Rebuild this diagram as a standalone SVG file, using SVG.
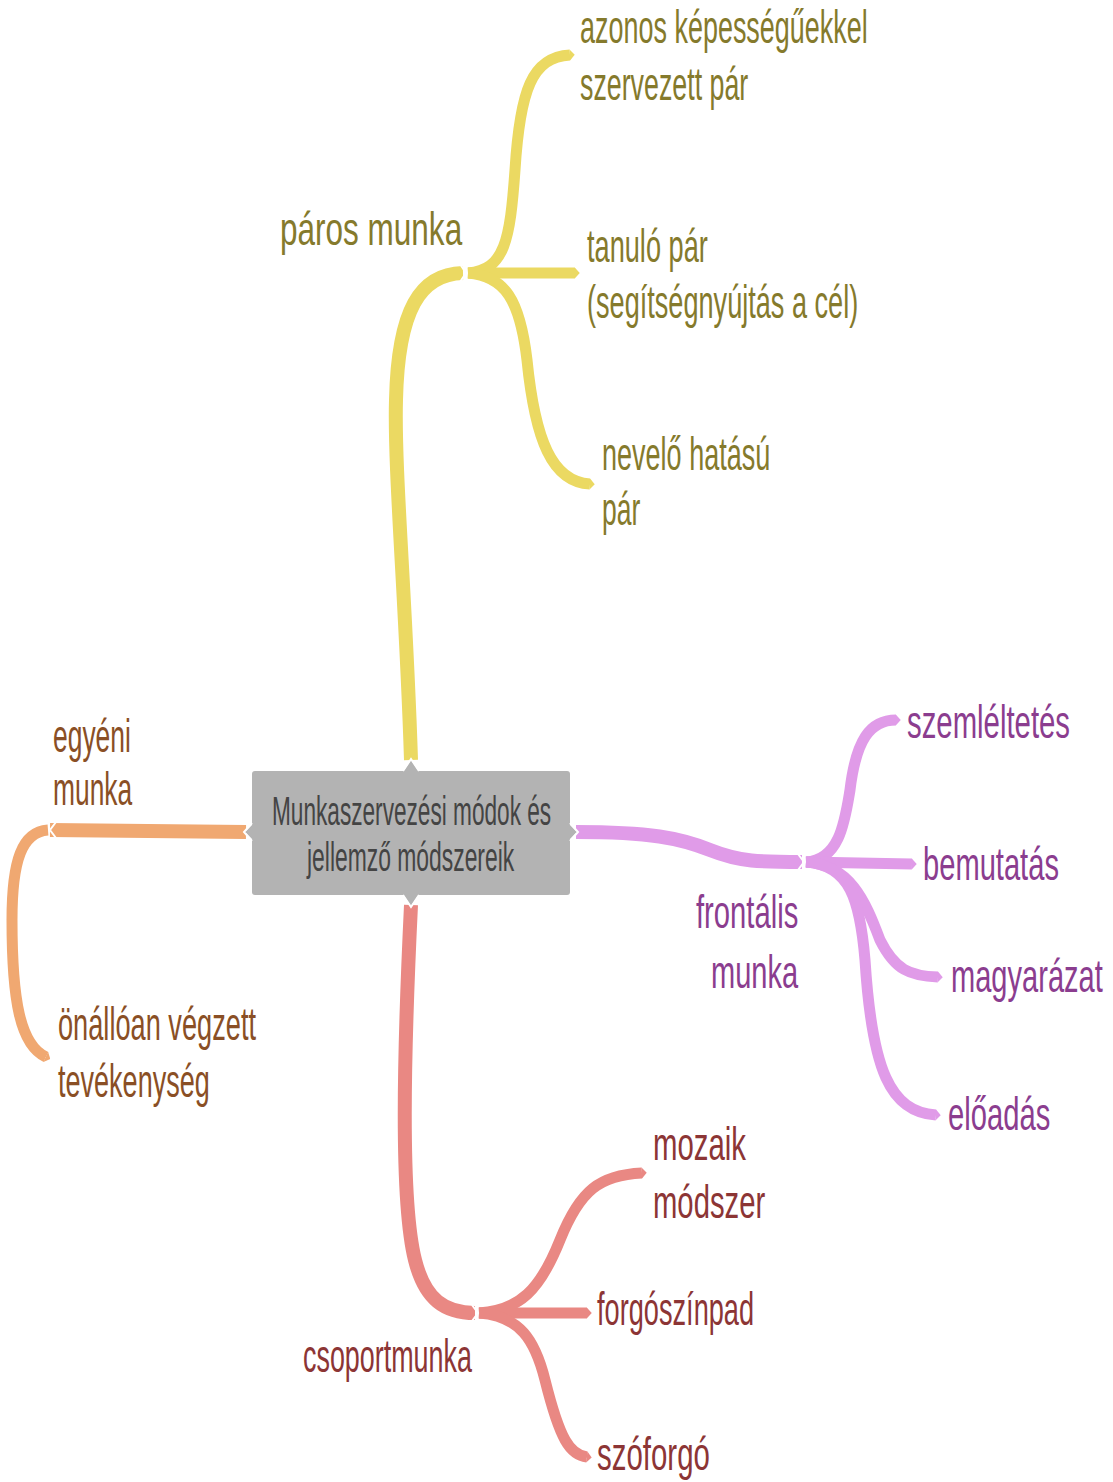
<svg xmlns="http://www.w3.org/2000/svg" width="1113" height="1482" viewBox="0 0 1113 1482">
  <style>
    .lbl { font-family: "Liberation Sans", Arial, sans-serif; font-size: 46px; }
    .root { font-family: "Liberation Sans", Arial, sans-serif; font-size: 40px; fill: #444444; }
    .y { fill: #857a2c; }
    .o { fill: #8a4f25; }
    .p { fill: #8b3d8f; }
    .r { fill: #8c3535; }
    .br { fill: none; stroke-linecap: butt; }
    .main { stroke-width: 14; }
    .leaf { stroke-width: 11; }
    .cut { fill: none; stroke: #ffffff; stroke-width: 2; stroke-linejoin: miter; }
  </style>
  <defs>
    <marker id="tipY" viewBox="0 -0.5 0.45 1" refX="0.02" refY="0" markerUnits="strokeWidth" markerWidth="0.45" markerHeight="1" orient="auto"><path d="M0,-0.5 L0.45,0 L0,0.5 Z" fill="#ebd962"/></marker>
    <marker id="tipO" viewBox="0 -0.5 0.45 1" refX="0.02" refY="0" markerUnits="strokeWidth" markerWidth="0.45" markerHeight="1" orient="auto"><path d="M0,-0.5 L0.45,0 L0,0.5 Z" fill="#f0a871"/></marker>
    <marker id="tipP" viewBox="0 -0.5 0.45 1" refX="0.02" refY="0" markerUnits="strokeWidth" markerWidth="0.45" markerHeight="1" orient="auto"><path d="M0,-0.5 L0.45,0 L0,0.5 Z" fill="#e09be8"/></marker>
    <marker id="tipR" viewBox="0 -0.5 0.45 1" refX="0.02" refY="0" markerUnits="strokeWidth" markerWidth="0.45" markerHeight="1" orient="auto"><path d="M0,-0.5 L0.45,0 L0,0.5 Z" fill="#e98883"/></marker>
  </defs>
  <rect width="1113" height="1482" fill="#ffffff"/>

  <g id="connectors">
    <!-- páros munka -->
    <g stroke="#ebd962">
      <path class="br main" d="M411,760 C406,600 394,470 396,400 C398,310 420,274 463,273"/>
      <path class="br leaf" marker-end="url(#tipY)" d="M468,273 C505,270 510,240 515,170 C520,90 532,57 570,55"/>
      <path class="br leaf" marker-end="url(#tipY)" d="M468,273 L575,273"/>
      <path class="br leaf" marker-end="url(#tipY)" d="M468,273 C505,276 520,300 527,360 C535,440 552,482 590,484"/>
      <polyline class="cut" points="460,264 466,273 460,282"/>
    </g>
    <!-- frontális munka -->
    <g stroke="#e09be8">
      <path class="br main" d="M576,832 C650,832 680,838 710,850 C740,862 760,862 802,862"/>
      <path class="br leaf" marker-end="url(#tipP)" d="M806,862 C840,860 845,820 850,790 C856,740 870,720 896,720"/>
      <path class="br leaf" marker-end="url(#tipP)" d="M806,862 L912,864"/>
      <path class="br leaf" marker-end="url(#tipP)" d="M806,862 C850,865 865,900 880,940 C895,970 910,976 938,977"/>
      <path class="br leaf" marker-end="url(#tipP)" d="M806,862 C850,865 860,900 865,960 C872,1070 890,1112 936,1115"/>
      <polyline class="cut" points="798,854 804,862 798,870"/>
    </g>
    <!-- egyéni munka -->
    <g stroke="#f0a871">
      <path class="br main" d="M246,832 L50,830"/>
      <path class="br leaf" marker-end="url(#tipO)" d="M48,830 C22,832 12,860 12,920 C12,1000 20,1045 46,1057"/>
      <polyline class="cut" points="56,822 50,830 56,838"/>
    </g>
    <!-- csoportmunka -->
    <g stroke="#e98883">
      <path class="br main" d="M411,905 C404,1050 400,1200 415,1260 C425,1300 445,1313 475,1313"/>
      <path class="br leaf" marker-end="url(#tipR)" d="M479,1313 C520,1310 540,1290 560,1240 C580,1190 600,1175 642,1173"/>
      <path class="br leaf" marker-end="url(#tipR)" d="M479,1313 L587,1313"/>
      <path class="br leaf" marker-end="url(#tipR)" d="M479,1313 C520,1316 535,1340 545,1380 C560,1440 570,1455 587,1457"/>
      <polyline class="cut" points="472,1305 478,1313 472,1321"/>
    </g>
  </g>

  <g id="root">
    <rect x="252" y="771" width="318" height="124" rx="3" fill="#b3b3b3"/>
    <path d="M403,772 L411,760 L419,772 Z M403,894 L411,906 L419,894 Z M253,824 L245,832 L253,840 Z M569,824 L577,832 L569,840 Z" fill="#b3b3b3"/>
    <polyline class="cut" points="403,771 411,759 419,771"/>
    <polyline class="cut" points="403,895 411,907 419,895"/>
    <polyline class="cut" points="252,823 244,832 252,841"/>
    <polyline class="cut" points="570,823 578,832 570,841"/>
    <text class="root" transform="translate(272,825) scale(0.66,1)" textLength="423" lengthAdjust="spacingAndGlyphs">Munkaszervezési módok és</text>
    <text class="root" transform="translate(307,871) scale(0.66,1)" textLength="314" lengthAdjust="spacingAndGlyphs">jellemző módszereik</text>
  </g>

  <g id="paros">
    <text class="lbl y" transform="translate(280,245) scale(0.66,1)" textLength="276" lengthAdjust="spacingAndGlyphs">páros munka</text>
  </g>
  <g id="azonos">
    <text class="lbl y" transform="translate(580,43) scale(0.66,1)" textLength="436" lengthAdjust="spacingAndGlyphs">azonos képességűekkel</text>
    <text class="lbl y" transform="translate(580,100) scale(0.66,1)" textLength="255" lengthAdjust="spacingAndGlyphs">szervezett pár</text>
  </g>
  <g id="tanulo">
    <text class="lbl y" transform="translate(587,262) scale(0.66,1)" textLength="183" lengthAdjust="spacingAndGlyphs">tanuló pár</text>
    <text class="lbl y" transform="translate(587,318) scale(0.66,1)" textLength="411" lengthAdjust="spacingAndGlyphs">(segítségnyújtás a cél)</text>
  </g>
  <g id="nevelo">
    <text class="lbl y" transform="translate(602,470) scale(0.66,1)" textLength="255" lengthAdjust="spacingAndGlyphs">nevelő hatású</text>
    <text class="lbl y" transform="translate(602,525) scale(0.66,1)" textLength="58" lengthAdjust="spacingAndGlyphs">pár</text>
  </g>

  <g id="egyeni">
    <text class="lbl o" transform="translate(53,752) scale(0.66,1)" textLength="118" lengthAdjust="spacingAndGlyphs">egyéni</text>
    <text class="lbl o" transform="translate(53,805) scale(0.66,1)" textLength="120" lengthAdjust="spacingAndGlyphs">munka</text>
  </g>
  <g id="onallo">
    <text class="lbl o" transform="translate(58,1040) scale(0.66,1)" textLength="300" lengthAdjust="spacingAndGlyphs">önállóan végzett</text>
    <text class="lbl o" transform="translate(58,1097) scale(0.66,1)" textLength="230" lengthAdjust="spacingAndGlyphs">tevékenység</text>
  </g>

  <g id="frontalis">
    <text class="lbl p" transform="translate(696,928) scale(0.66,1)" textLength="155" lengthAdjust="spacingAndGlyphs">frontális</text>
    <text class="lbl p" transform="translate(711,988) scale(0.66,1)" textLength="132" lengthAdjust="spacingAndGlyphs">munka</text>
  </g>
  <g id="szemleltetes">
    <text class="lbl p" transform="translate(907,738) scale(0.66,1)" textLength="247" lengthAdjust="spacingAndGlyphs">szemléltetés</text>
  </g>
  <g id="bemutatas">
    <text class="lbl p" transform="translate(923,880) scale(0.66,1)" textLength="206" lengthAdjust="spacingAndGlyphs">bemutatás</text>
  </g>
  <g id="magyarazat">
    <text class="lbl p" transform="translate(951,992) scale(0.66,1)" textLength="230" lengthAdjust="spacingAndGlyphs">magyarázat</text>
  </g>
  <g id="eloadas">
    <text class="lbl p" transform="translate(948,1130) scale(0.66,1)" textLength="155" lengthAdjust="spacingAndGlyphs">előadás</text>
  </g>

  <g id="csoport">
    <text class="lbl r" transform="translate(303,1372) scale(0.66,1)" textLength="256" lengthAdjust="spacingAndGlyphs">csoportmunka</text>
  </g>
  <g id="mozaik">
    <text class="lbl r" transform="translate(653,1160) scale(0.66,1)" textLength="141" lengthAdjust="spacingAndGlyphs">mozaik</text>
    <text class="lbl r" transform="translate(653,1218) scale(0.66,1)" textLength="170" lengthAdjust="spacingAndGlyphs">módszer</text>
  </g>
  <g id="forgoszinpad">
    <text class="lbl r" transform="translate(597,1325) scale(0.66,1)" textLength="238" lengthAdjust="spacingAndGlyphs">forgószínpad</text>
  </g>
  <g id="szoforgo">
    <text class="lbl r" transform="translate(597,1470) scale(0.66,1)" textLength="171" lengthAdjust="spacingAndGlyphs">szóforgó</text>
  </g>
</svg>
